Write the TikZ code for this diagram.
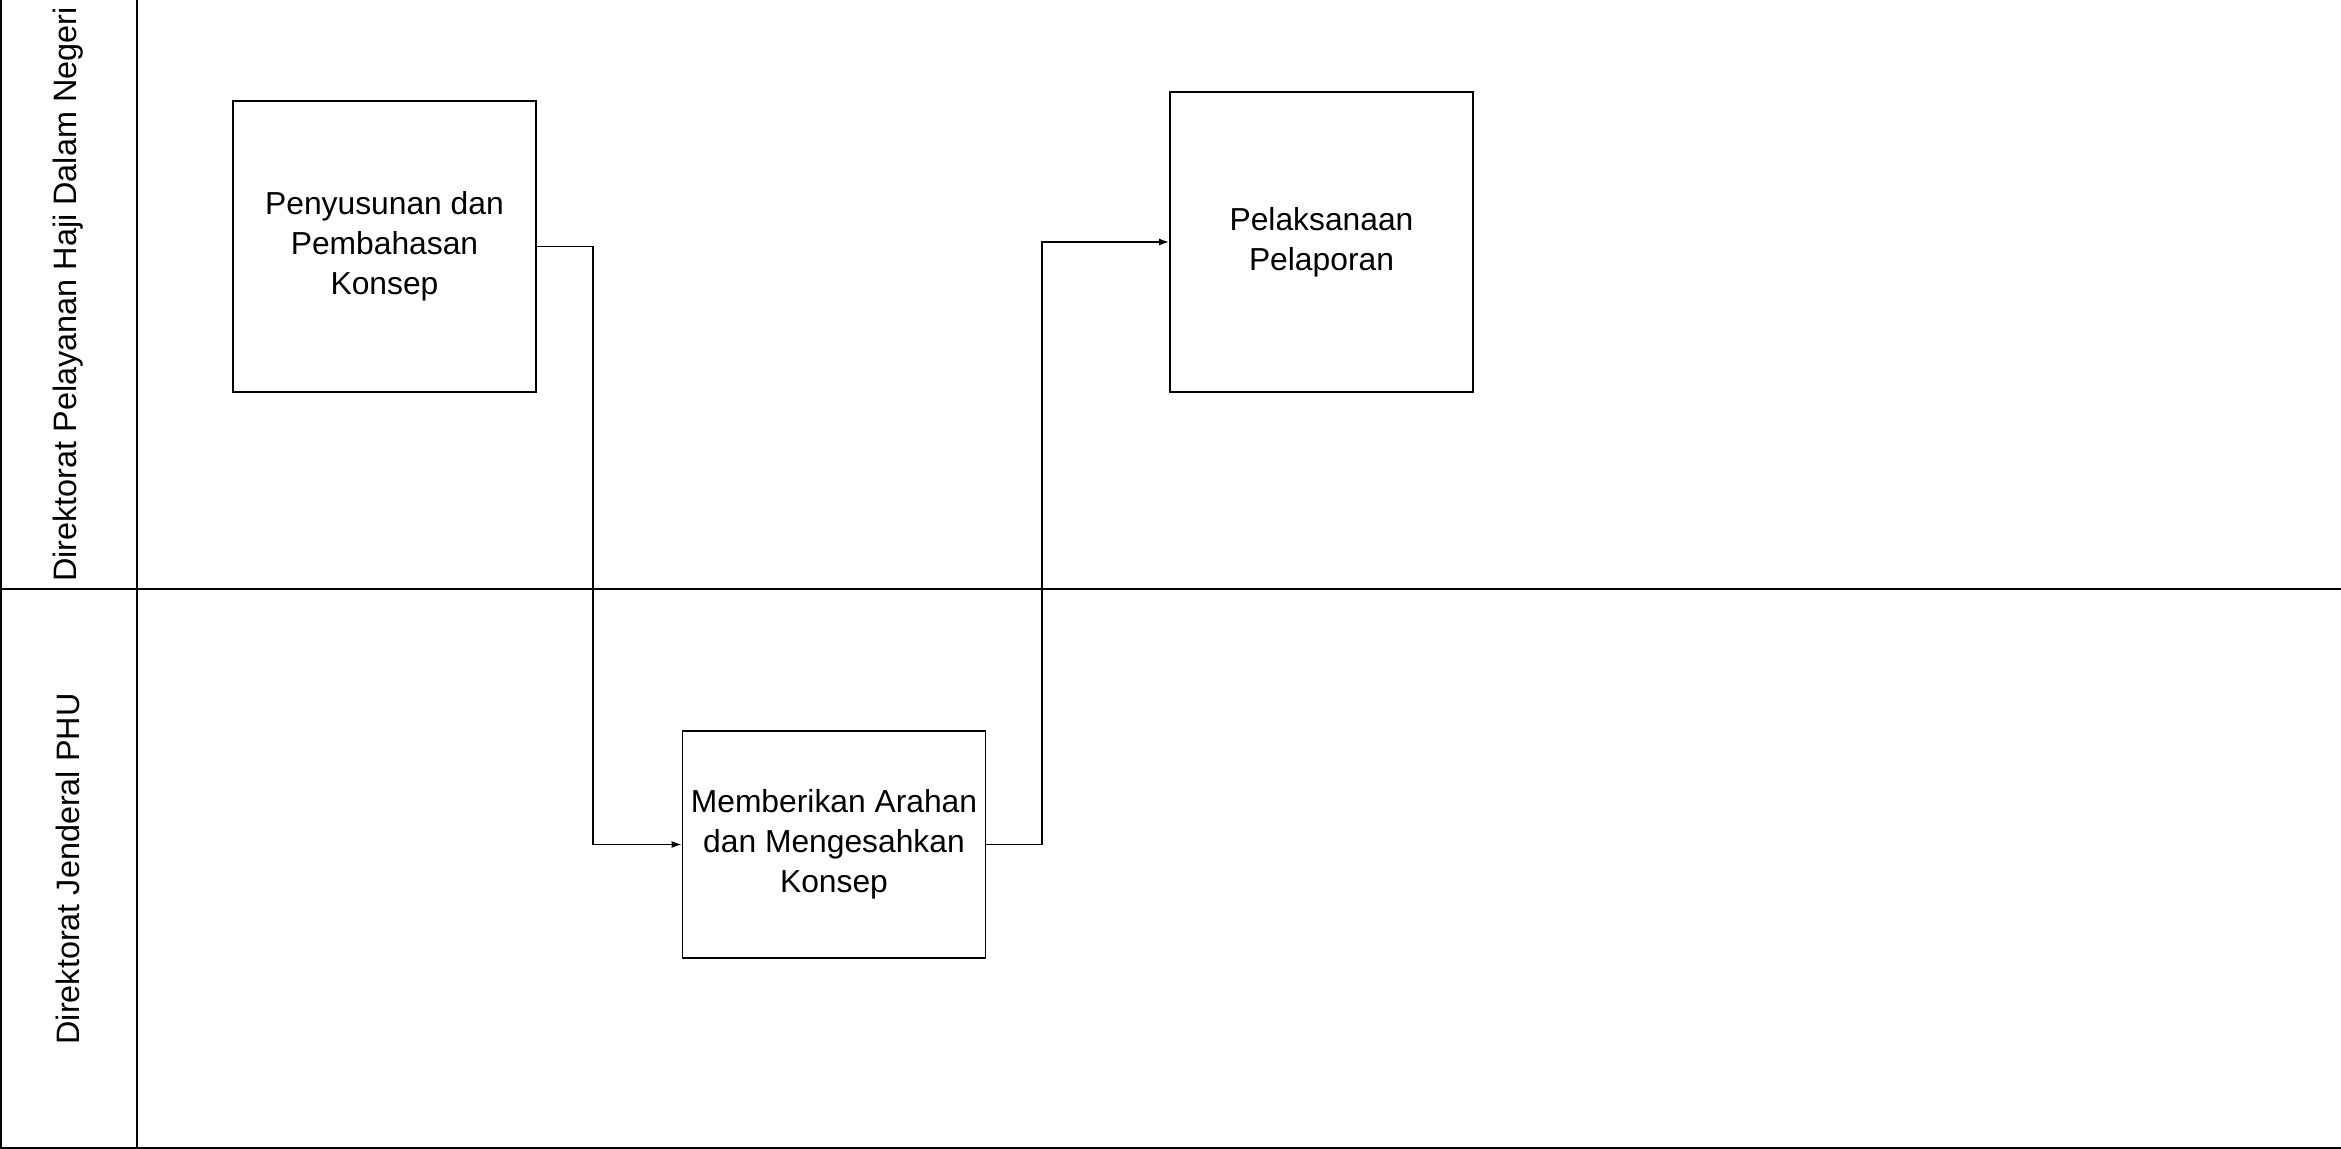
\documentclass[tikz,border=0pt]{standalone}
\usepackage{fontspec}
\setmainfont{Liberation Sans}
\usetikzlibrary{arrows.meta}
\begin{document}
\begin{tikzpicture}[x=0.5pt,y=-0.5pt,
  laneline/.style={line width=1pt},
  proc/.style={draw,line width=0.9pt,minimum width=151.5pt,inner sep=0pt,align=center,
    font=\fontsize{15.9}{20}\selectfont},
  flow/.style={line width=0.75pt,-{Latex[length=5pt,width=3.5pt]}},
  lanelabel/.style={rotate=90,inner sep=0pt,font=\fontsize{16.2}{20}\selectfont}]
\useasboundingbox (0,0) rectangle (2341,1149);
% swimlanes
\draw[laneline] (1,0) -- (1,1148) -- (2341,1148);
\draw[laneline] (137,0) -- (137,1148);
\draw[laneline] (1,589) -- (2341,589);
\node[lanelabel] (l1) at (68,294.5) {Direktorat Pelayanan Haji Dalam Negeri};
\node[lanelabel] (l2) at (68,869) {Direktorat Jenderal PHU};
% process boxes
\node[proc,minimum height=145.5pt] (b1) at (384.5,246.5) {Penyusunan dan\\Pembahasan\\Konsep};
\node[proc,minimum height=150pt] (b2) at (1321.5,242) {Pelaksanaan\\Pelaporan};
\node[proc,minimum height=113.5pt] (b3) at (834,844.5) {Memberikan Arahan\\dan Mengesahkan\\Konsep};
% connectors
\coordinate (c1) at (593,0);
\coordinate (c2) at (1042,0);
\draw[flow] (b1.east) -- (b1.east -| c1) -- (b3.west -| c1) -- (b3.west);
\draw[flow] (b3.east) -- (b3.east -| c2) -- (b2.west -| c2) -- (b2.west);
\end{tikzpicture}
\end{document}
